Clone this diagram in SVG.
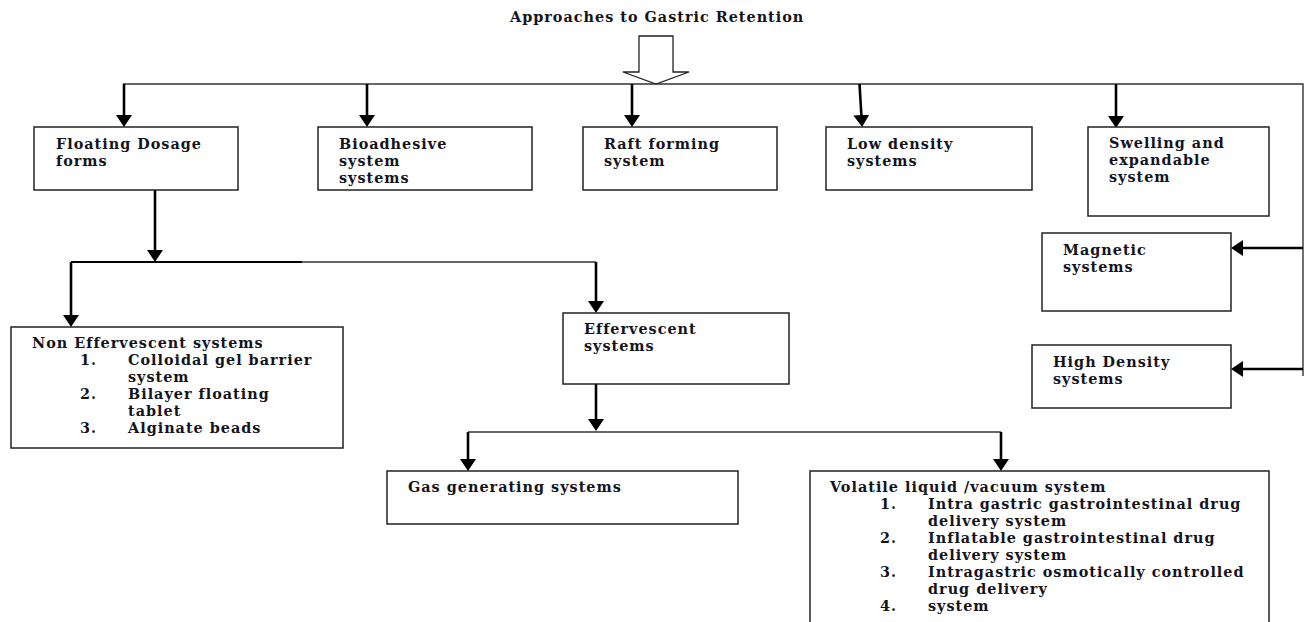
<svg xmlns="http://www.w3.org/2000/svg" width="1310" height="622" viewBox="0 0 1310 622">
<style>
text{font-family:"DejaVu Serif","Liberation Serif",serif;font-size:14.4px;letter-spacing:1px;font-weight:bold;fill:#141420}
.box{fill:#fff;stroke:#222;stroke-width:1.5}
.bus{fill:none;stroke:#333;stroke-width:1.4}
.arr{fill:none;stroke:#000;stroke-width:2.6;marker-end:url(#ah)}
.thick{fill:none;stroke:#000;stroke-width:2.2}
</style>
<defs>
<marker id="ah" markerUnits="userSpaceOnUse" markerWidth="12" markerHeight="16" viewBox="0 0 12 16" refX="2" refY="8" orient="auto">
<path d="M0,0 L12,8 L0,16 z" fill="#000"/>
</marker>
</defs>
<rect width="1310" height="622" fill="#fff"/>
<g id="title">
<text x="510" y="22">Approaches to Gastric Retention</text>
<polygon points="639,36 673,36 673,72 689,72 656,84 623,72 639,72" fill="#fff" stroke="#222" stroke-width="1.3"/>
</g>
<g id="connectors">
<polyline class="bus" points="123,84 1303,84 1303,376"/>
<line class="arr" x1="124" y1="84" x2="124" y2="117"/>
<line class="arr" x1="367" y1="84" x2="367" y2="117"/>
<line class="arr" x1="632" y1="84" x2="632" y2="117"/>
<line class="arr" x1="859.5" y1="84" x2="861.5" y2="117"/>
<line class="arr" x1="1116" y1="84" x2="1116" y2="118"/>
<line class="arr" x1="1303" y1="248" x2="1241" y2="248"/>
<line class="arr" x1="1303" y1="369" x2="1241" y2="369"/>
<line class="arr" x1="155" y1="187" x2="155" y2="252"/>
<line class="thick" x1="71" y1="262" x2="302" y2="262"/>
<line class="bus" x1="302" y1="262" x2="596" y2="262"/>
<line class="arr" x1="71" y1="262" x2="71" y2="317"/>
<line class="arr" x1="596" y1="262" x2="596" y2="303"/>
<line class="arr" x1="596" y1="384" x2="596" y2="421"/>
<line class="bus" x1="468" y1="432" x2="1001" y2="432"/>
<line class="arr" x1="468" y1="432" x2="468" y2="461"/>
<line class="arr" x1="1001" y1="432" x2="1001" y2="461"/>
</g>
<g id="floating">
<rect class="box" x="34" y="127" width="204" height="63"/>
<text x="56" y="149">Floating Dosage</text>
<text x="56" y="166">forms</text>
</g>
<g id="bioadhesive">
<rect class="box" x="318" y="127" width="214" height="63"/>
<text x="339" y="149">Bioadhesive</text>
<text x="339" y="166">system</text>
<text x="339" y="183">systems</text>
</g>
<g id="raft">
<rect class="box" x="583" y="127" width="194" height="63"/>
<text x="604" y="149">Raft forming</text>
<text x="604" y="166">system</text>
</g>
<g id="lowdensity">
<rect class="box" x="826" y="127" width="206" height="63"/>
<text x="847" y="149">Low density</text>
<text x="847" y="166">systems</text>
</g>
<g id="swelling">
<rect class="box" x="1088" y="127" width="181" height="89"/>
<text x="1109" y="148">Swelling and</text>
<text x="1109" y="165">expandable</text>
<text x="1109" y="182">system</text>
</g>
<g id="magnetic">
<rect class="box" x="1042" y="233" width="189" height="78"/>
<text x="1063" y="255">Magnetic</text>
<text x="1063" y="272">systems</text>
</g>
<g id="highdensity">
<rect class="box" x="1032" y="345" width="199" height="63"/>
<text x="1053" y="367">High Density</text>
<text x="1053" y="384">systems</text>
</g>
<g id="noneffervescent">
<rect class="box" x="11" y="327" width="332" height="121"/>
<text x="32" y="348">Non Effervescent systems</text>
<text x="80" y="365">1.</text>
<text x="128" y="365">Colloidal gel barrier</text>
<text x="128" y="382">system</text>
<text x="80" y="399">2.</text>
<text x="128" y="399">Bilayer floating</text>
<text x="128" y="416">tablet</text>
<text x="80" y="433">3.</text>
<text x="128" y="433">Alginate beads</text>
</g>
<g id="effervescent">
<rect class="box" x="563" y="313" width="226" height="71"/>
<text x="584" y="334">Effervescent</text>
<text x="584" y="351">systems</text>
</g>
<g id="gas">
<rect class="box" x="387" y="471" width="351" height="53"/>
<text x="408" y="492">Gas generating systems</text>
</g>
<g id="volatile">
<rect class="box" x="810" y="471" width="459" height="170"/>
<text x="830" y="492">Volatile liquid /vacuum system</text>
<text x="880" y="509">1.</text>
<text x="928" y="509">Intra gastric gastrointestinal drug</text>
<text x="928" y="526">delivery system</text>
<text x="880" y="543">2.</text>
<text x="928" y="543">Inflatable gastrointestinal drug</text>
<text x="928" y="560">delivery system</text>
<text x="880" y="577">3.</text>
<text x="928" y="577">Intragastric osmotically controlled</text>
<text x="928" y="594">drug delivery</text>
<text x="880" y="611">4.</text>
<text x="928" y="611">system</text>
</g>
</svg>
